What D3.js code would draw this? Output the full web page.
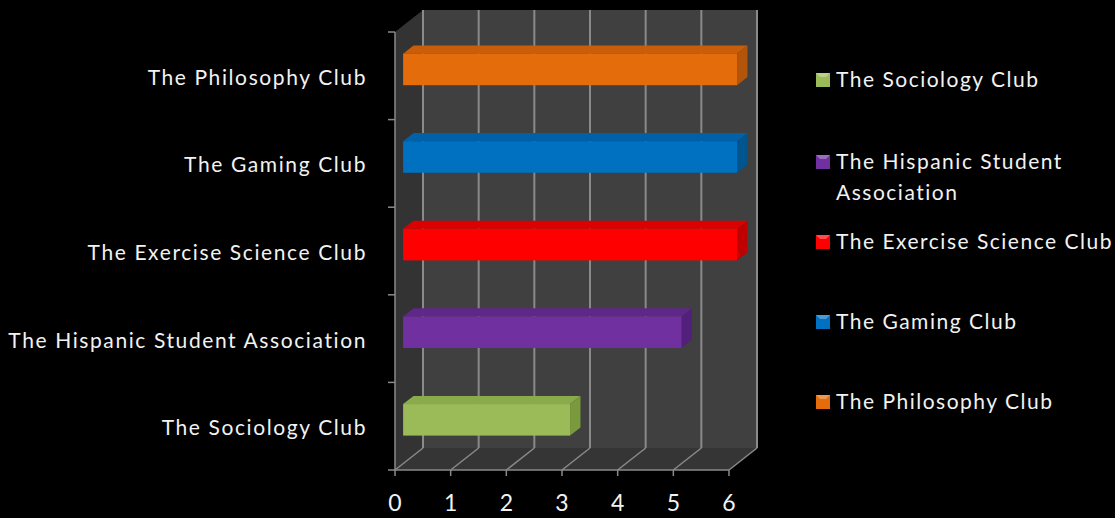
<!DOCTYPE html>
<html>
<head>
<meta charset="utf-8">
<script src="https://cdn.jsdelivr.net/npm/d3@7"></script>
<style>
html,body{margin:0;padding:0;background:#000;}
svg{display:block;}
text{font-family:Lato, "Open Sans", sans-serif;fill:#f2f2f2;}
</style>
</head>
<body>
<svg id="chart" width="1115" height="518"></svg>
<script>
const categories = ["The Sociology Club","The Hispanic Student Association","The Exercise Science Club","The Gaming Club","The Philosophy Club"];
const values = [3,5,6,6,6];
const colors = ["#9bbb59","#7030a0","#ff0000","#0070c0","#e46c0a"];
const sideColors = ["#7a9a3e","#52207a","#c00000","#00558f","#b2540a"];
const topColors = ["#8aab4c","#5f2888","#dd0000","#0061a8","#c85e0a"];
const xTicks = [0,1,2,3,4,5,6];
const legendLabels = [["The Sociology Club"],["The Hispanic Student","Association"],["The Exercise Science Club"],["The Gaming Club"],["The Philosophy Club"]];

const svg = d3.select("#chart");
const DX = 28, DY = -22;
const front = {left:395, right:729, top:32, bottom:470};

const x = d3.scaleLinear().domain([0,6]).range([front.left, front.right]);
const y = d3.scaleBand().domain(categories.slice().reverse()).range([front.top, front.bottom]).paddingInner(0.64).paddingOuter(0.32);
const yBand = d3.scaleBand().domain(categories.slice().reverse()).range([front.top, front.bottom]);

const pts = a => a.map(p=>p.join(",")).join(" ");

// walls
svg.append("polygon").attr("points", pts([[front.left+DX,front.top+DY],[front.right+DX,front.top+DY],[front.right+DX,front.bottom+DY],[front.left+DX,front.bottom+DY]])).attr("fill","#404040");
svg.append("polygon").attr("points", pts([[front.left,front.top],[front.left+DX,front.top+DY],[front.left+DX,front.bottom+DY],[front.left,front.bottom]])).attr("fill","#333333");
svg.append("polygon").attr("points", pts([[front.left,front.bottom],[front.left+DX,front.bottom+DY],[front.right+DX,front.bottom+DY],[front.right,front.bottom]])).attr("fill","#353535");

const gridColor = "#8a8a8a";
svg.selectAll(".vgrid").data(xTicks).enter().append("line")
  .attr("x1", d=>x(d)+DX).attr("x2", d=>x(d)+DX)
  .attr("y1", front.top+DY).attr("y2", front.bottom+DY)
  .attr("stroke", gridColor).attr("stroke-width", 2);
svg.selectAll(".fgrid").data(xTicks).enter().append("line")
  .attr("x1", d=>x(d)).attr("x2", d=>x(d)+DX)
  .attr("y1", front.bottom).attr("y2", front.bottom+DY)
  .attr("stroke", gridColor).attr("stroke-width", 1.5);
svg.append("line").attr("x1",front.left).attr("x2",front.right).attr("y1",front.bottom).attr("y2",front.bottom).attr("stroke",gridColor).attr("stroke-width",1.5);
svg.append("line").attr("x1",front.left).attr("x2",front.left).attr("y1",front.top).attr("y2",front.bottom).attr("stroke",gridColor).attr("stroke-width",1.5);
const yTickPos = categories.map(c=>yBand(c)).concat([front.bottom]);
svg.selectAll(".ytick").data(yTickPos).enter().append("line")
  .attr("x1",front.left-7).attr("x2",front.left).attr("y1",d=>d).attr("y2",d=>d)
  .attr("stroke",gridColor).attr("stroke-width",1.5);
svg.selectAll(".xtick").data(xTicks).enter().append("line")
  .attr("x1",d=>x(d)).attr("x2",d=>x(d)).attr("y1",front.bottom).attr("y2",front.bottom+6)
  .attr("stroke",gridColor).attr("stroke-width",1.5);
svg.selectAll(".xlab").data(xTicks).enter().append("text")
  .attr("x",d=>x(d)).attr("y",511).attr("text-anchor","middle")
  .attr("font-size",23).text(d=>d);

// bars
const f0 = 0.29, f1 = 0.66;
const data = categories.map((c,i)=>({c, v:values[i], col:colors[i], side:sideColors[i], top:topColors[i]}));
const bars = svg.selectAll(".bar").data(data).enter().append("g");
bars.each(function(d){
  const g = d3.select(this);
  const x0 = x(0)+DX*f0, x1 = x(d.v)+DX*f0;
  const y0 = y(d.c)+DY*f0, y1 = y0 + y.bandwidth();
  const ddx = DX*(f1-f0), ddy = DY*(f1-f0);
  g.append("polygon").attr("points", pts([[x0,y0],[x1,y0],[x1+ddx,y0+ddy],[x0+ddx,y0+ddy]])).attr("fill", d.top);
  g.append("polygon").attr("points", pts([[x1,y0],[x1+ddx,y0+ddy],[x1+ddx,y1+ddy],[x1,y1]])).attr("fill", d.side);
  g.append("rect").attr("x",x0).attr("y",y0).attr("width",x1-x0).attr("height",y1-y0).attr("fill",d.col);
});

// y labels
svg.selectAll(".ylab").data(categories).enter().append("text")
  .attr("x",367).attr("y",d=>yBand(d)+yBand.bandwidth()/2+9)
  .attr("text-anchor","end").attr("font-size",21).attr("letter-spacing",1.6).text(d=>d);

// legend
const legendY = [80,162,242,322,402];
const leg = svg.selectAll(".leg").data(legendLabels).enter().append("g")
  .attr("transform",(d,i)=>`translate(816,${legendY[i]})`);
leg.append("rect").attr("x",0).attr("y",-7).attr("width",14).attr("height",14).attr("fill",(d,i)=>colors[i]);
leg.append("polygon").attr("points","0,-7 14,-7 10,-3 4,-3").attr("fill","rgba(255,255,255,0.3)");
leg.each(function(d){
  const g = d3.select(this);
  d.forEach((t,j)=>g.append("text").attr("x",20).attr("y",7+j*31).attr("font-size",21).attr("letter-spacing",1.5).text(t));
});
</script>
</body>
</html>
